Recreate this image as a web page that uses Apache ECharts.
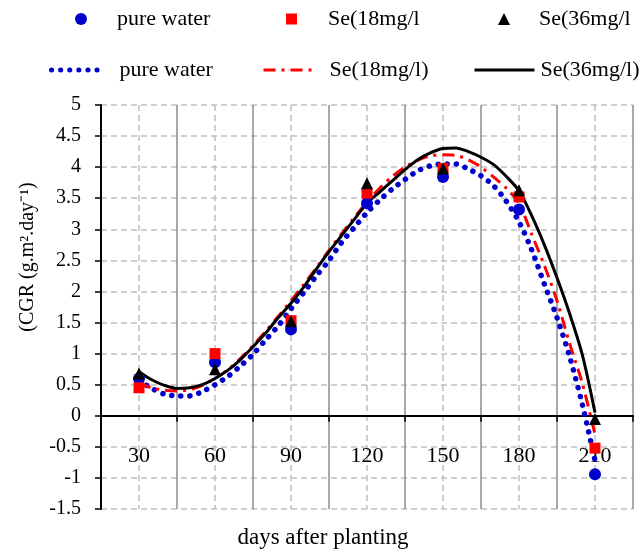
<!DOCTYPE html>
<html>
<head>
<meta charset="utf-8">
<script src="https://cdn.jsdelivr.net/npm/echarts@6/dist/echarts.min.js"></script>
<style>html,body{margin:0;padding:0;background:#fff}#c{width:639px;height:550px}</style>
</head>
<body>
<div id="c"></div>
<script>
// ---- data ----
const xLabels = ['30', '60', '90', '120', '150', '180', '210'];
const sampleDays = [30, 60, 90, 120, 150, 180, 210];
const pureWaterPts = [0.60, 0.86, 1.39, 3.42, 3.84, 3.32, -0.94];
const se18Pts = [0.45, 1.00, 1.53, 3.58, 3.98, 3.52, -0.52];
const se36Pts = [0.68, 0.75, 1.52, 3.74, 3.98, 3.63, -0.05];

const curveDays = [30, 35, 40, 45, 50, 55, 60, 65, 70, 75, 80, 85, 90, 95, 100, 105, 110, 115, 120, 125,
  130, 135, 140, 145, 150, 155, 160, 165, 170, 175, 180, 185, 190, 195, 200, 205, 210];
const pureWaterCurve = [0.57, 0.44, 0.35, 0.32, 0.32, 0.39, 0.50, 0.63, 0.80, 0.99, 1.22, 1.45, 1.72, 1.98, 2.25, 2.50, 2.79, 3.03, 3.27, 3.47,
  3.65, 3.80, 3.94, 4.02, 4.05, 4.05, 3.97, 3.86, 3.70, 3.45, 3.12, 2.67, 2.12, 1.58, 0.95, 0.18, -0.72];
const se18Curve = [0.52, 0.45, 0.41, 0.40, 0.42, 0.49, 0.60, 0.74, 0.92, 1.13, 1.36, 1.60, 1.85, 2.11, 2.38, 2.66, 2.93, 3.19, 3.44, 3.66,
  3.85, 4.00, 4.11, 4.18, 4.20, 4.19, 4.12, 4.00, 3.84, 3.66, 3.42, 2.92, 2.42, 1.85, 1.16, 0.52, -0.30];
const se36Curve = [0.71, 0.58, 0.49, 0.44, 0.45, 0.50, 0.60, 0.73, 0.90, 1.11, 1.33, 1.58, 1.81, 2.07, 2.36, 2.64, 2.90, 3.16, 3.42, 3.60,
  3.78, 3.96, 4.12, 4.23, 4.30, 4.31, 4.25, 4.16, 4.04, 3.85, 3.62, 3.22, 2.75, 2.22, 1.64, 0.98, 0.05];

const yTitle = '(CGR (g.m\u00B2.day\u207B\u00B9)';
const xTitle = 'days after planting';

// ---- chart ----
const FONT = '"Liberation Serif", "Times New Roman", serif';
const BLUE = '#0000CC', RED = '#FF0000', BLACK = '#000000';
const pair = (xs, ys) => xs.map((x, i) => [x, ys[i]]);

const chart = echarts.init(document.getElementById('c'), null, { renderer: 'canvas' });

function legendItem(name, left, top, w, h, pad, lineStyle) {
  const o = {
    data: [name], left: left, top: top, orient: 'horizontal', padding: 0,
    itemWidth: w, itemHeight: h, selectedMode: false,
    textStyle: { fontFamily: FONT, fontSize: 22, color: '#000', padding: [0, 0, 0, pad] }
  };
  if (lineStyle) o.lineStyle = lineStyle;
  return o;
}

chart.setOption({
  animation: false,
  backgroundColor: '#fff',
  grid: { left: 101, right: 6, top: 105, bottom: 41, containLabel: false, outerBoundsMode: 'none' },
  legend: [
    legendItem('pure water', 75, 8, 12, 12, 25),
    legendItem('Se(18mg/l', 286, 8, 11, 11, 26),
    legendItem('Se(36mg/l', 498, 8, 12, 12, 24),
    legendItem('pure water ', 49, 59, 53, 1, 10, { width: 5, cap: 'round', type: [0.1, 9] }),
    legendItem('Se(18mg/l)', 262, 59, 50, 1, 11, { width: 3, type: [12, 6, 3, 6] }),
    legendItem('Se(36mg/l)', 473, 59, 60, 1, 1, { width: 3 })
  ],
  xAxis: [
    {
      type: 'category', data: xLabels, boundaryGap: true, position: 'bottom',
      axisLine: { onZero: true, lineStyle: { color: '#000', width: 2 } },
      axisTick: { show: true, interval: 0, length: 6, lineStyle: { color: '#000', width: 1.5 } },
      axisLabel: { interval: 0, margin: -64, fontFamily: FONT, fontSize: 22, color: '#000' },
      splitLine: { show: true, interval: 0, lineStyle: { color: '#8c8c8c', width: 1.5 } }
    },
    {
      type: 'value', min: 15, max: 225, interval: 15, position: 'top',
      axisLine: { show: false }, axisTick: { show: false }, axisLabel: { show: false },
      splitLine: { show: true, showMinLine: true, showMaxLine: true,
        lineStyle: { color: ['rgba(0,0,0,0)', '#c0c0c0'], type: [6, 4], width: 1.5 } }
    }
  ],
  yAxis: {
    type: 'value', min: -1.5, max: 5, interval: 0.5,
    axisLine: { show: true, onZero: false, lineStyle: { color: '#000', width: 2 } },
    axisTick: { show: true, length: 6, lineStyle: { color: '#000', width: 1.5 } },
    axisLabel: { margin: 20, fontFamily: FONT, fontSize: 20, color: '#000' },
    splitLine: { show: true, lineStyle: { color: '#c0c0c0', type: [6, 4], width: 1.5 } }
  },
  graphic: [
    { type: 'text', x: 28, y: 257, rotation: Math.PI / 2,
      style: { text: yTitle, fontFamily: FONT, fontSize: 20, fill: '#000', align: 'center', verticalAlign: 'middle' } },
    { type: 'text', x: 323, y: 538,
      style: { text: xTitle, fontFamily: FONT, fontSize: 23, fill: '#000', align: 'center', verticalAlign: 'middle' } }
  ],
  series: [
    { name: 'pure water ', type: 'line', xAxisIndex: 1, data: pair(curveDays, pureWaterCurve), smooth: 0.3,
      symbol: 'none', z: 2, itemStyle: { color: BLUE },
      lineStyle: { color: BLUE, width: 5.5, type: [0.1, 9], cap: 'round' } },
    { name: 'Se(18mg/l)', type: 'line', xAxisIndex: 1, data: pair(curveDays, se18Curve), smooth: 0.3,
      symbol: 'none', z: 3, itemStyle: { color: RED },
      lineStyle: { color: RED, width: 3, type: [12, 6, 3, 6] } },
    { name: 'Se(36mg/l)', type: 'line', xAxisIndex: 1, data: pair(curveDays, se36Curve), smooth: 0.3,
      symbol: 'none', z: 4, itemStyle: { color: BLACK },
      lineStyle: { color: BLACK, width: 3 } },
    { name: 'pure water', type: 'scatter', xAxisIndex: 1, data: pair(sampleDays, pureWaterPts),
      symbol: 'circle', symbolSize: 12, z: 5, itemStyle: { color: BLUE, opacity: 1 } },
    { name: 'Se(18mg/l', type: 'scatter', xAxisIndex: 1, data: pair(sampleDays, se18Pts),
      symbol: 'rect', symbolSize: 11, z: 6, itemStyle: { color: RED, opacity: 1 } },
    { name: 'Se(36mg/l', type: 'scatter', xAxisIndex: 1, data: pair(sampleDays, se36Pts),
      symbol: 'triangle', symbolSize: 12, z: 7, itemStyle: { color: BLACK, opacity: 1 } }
  ]
});
</script>
</body>
</html>
